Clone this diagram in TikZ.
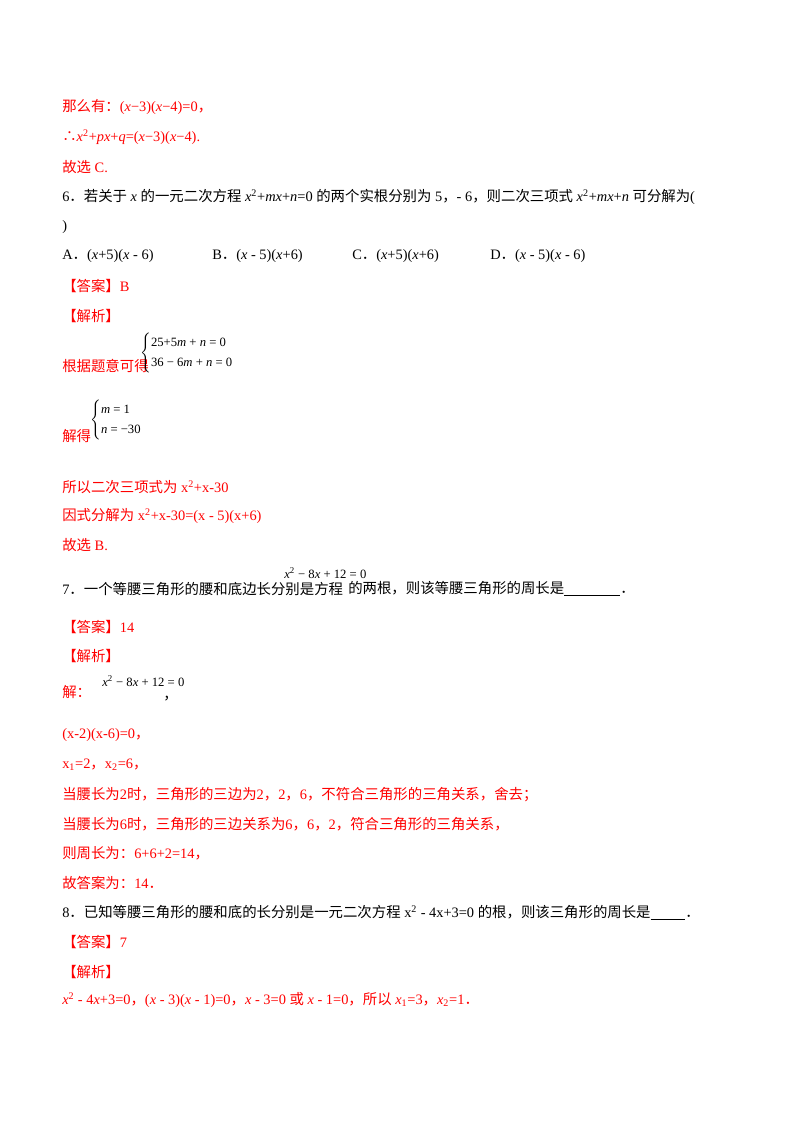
\documentclass[tikz,border=0pt]{standalone}
\usepackage{fontspec}
\setmainfont{Liberation Serif}
\newfontfamily\cjk{Noto Sans CJK SC}
\newcommand\fc{{\cjk ，}}
\newcommand\fp{{\cjk ．}}
\newcommand\eqa{\fontsize{9.5pt}{11pt}\selectfont\textit{x}\textsuperscript{2} − 8\textit{x} + 12 = 0}
\newcommand\sm[1]{\mbox{\fontsize{9.5pt}{11pt}\selectfont #1}}
\begin{document}
\begin{tikzpicture}[x=0.75pt,y=-0.75pt,
  t/.style={anchor=west,inner sep=0pt,font=\fontsize{10.8pt}{12pt}\selectfont},
  r/.style={t,text=red}]
\useasboundingbox (0,0) rectangle (800,1132);
\fill[white] (0,0) rectangle (800,1132);
\node[r] (l1) at (62,107) {{\cjk 那么有：}(\textit{x}−3)(\textit{x}−4)=0\fc};
\node[r] (l2) at (62,137) {{\cjk ∴}\textit{x}\textsuperscript{2}+\textit{px}+\textit{q}=(\textit{x}−3)(\textit{x}−4).};
\node[r] (l3) at (62,167) {{\cjk 故选} C.};
\node[t] (l4) at (62,197) {6\fp{\cjk 若关于} \textit{x} {\cjk 的一元二次方程} \textit{x}\textsuperscript{2}+\textit{mx}+\textit{n}=0 {\cjk 的两个实根分别为} 5\fc - 6\fc{\cjk 则二次三项式} \textit{x}\textsuperscript{2}+\textit{mx}+\textit{n} {\cjk 可分解为}(};
\node[t] (l5) at (62,227) {)};
\node[t] (oA) at (62,256) {A\fp(\textit{x}+5)(\textit{x} - 6)};
\node[t] (oB) at (212,256) {B\fp(\textit{x} - 5)(\textit{x}+6)};
\node[t] (oC) at (352,256) {C\fp(\textit{x}+5)(\textit{x}+6)};
\node[t] (oD) at (490,256) {D\fp(\textit{x} - 5)(\textit{x} - 6)};
\node[r] (a6) at (62,286) {{\cjk 【答案】}B};
\node[r] (j6) at (62,316) {{\cjk 【解析】}};
\node[r] (g6) at (62,366) {{\cjk 根据题意可得}};
\node[t] (s6) at (140,353) {$\left\{\begin{array}{@{}l}\sm{25+5\textit{m} + \textit{n} = 0}\\[3pt]\sm{36 − 6\textit{m} + \textit{n} = 0}\end{array}\right.$};
\node[r] (jd) at (62,436) {{\cjk 解得}};
\node[t] (s7) at (90,420) {$\left\{\begin{array}{@{}l}\sm{\textit{m} = 1}\\[3pt]\sm{\textit{n} = −30}\end{array}\right.$};
\node[r] (y1) at (62,487) {{\cjk 所以二次三项式为} x\textsuperscript{2}+x-30};
\node[r] (y2) at (62,516) {{\cjk 因式分解为} x\textsuperscript{2}+x-30=(x - 5)(x+6)};
\node[r] (y3) at (62,545) {{\cjk 故选} B.};
\node[t] (q7) at (62,589) {7\fp{\cjk 一个等腰三角形的腰和底边长分别是方程}};
\node[t] (q7e) at (284,573) {\eqa};
\node[t] (q7b) at (348,589) {{\cjk 的两根，则该等腰三角形的周长是}\underline{\hspace{42pt}}\fp};
\node[r] (a7) at (62,627) {{\cjk 【答案】}14};
\node[r] (j7) at (62,656) {{\cjk 【解析】}};
\node[r] (s1) at (62,692) {{\cjk 解：}};
\node[t] (s1e) at (102,681) {\eqa};
\node[t] (s1c) at (163,699) {\fc};
\node[r] (s2) at (62,735) {(x-2)(x-6)=0\fc};
\node[r] (s3) at (62,765) {x\textsubscript{1}=2\fc x\textsubscript{2}=6\fc};
\node[r] (s4) at (62,795) {{\cjk 当腰长为}2{\cjk 时，三角形的三边为}2\fc 2\fc 6\fc{\cjk 不符合三角形的三角关系，舍去；}};
\node[r] (s5) at (62,824) {{\cjk 当腰长为}6{\cjk 时，三角形的三边关系为}6\fc 6\fc 2\fc{\cjk 符合三角形的三角关系，}};
\node[r] (s6b) at (62,853) {{\cjk 则周长为：}6+6+2=14\fc};
\node[r] (s7b) at (62,883) {{\cjk 故答案为：}14\fp};
\node[t] (q8) at (62,913) {8\fp{\cjk 已知等腰三角形的腰和底的长分别是一元二次方程} x\textsuperscript{2} - 4x+3=0 {\cjk 的根，则该三角形的周长是}\underline{\hspace{26pt}}\fp};
\node[r] (a8) at (62,942) {{\cjk 【答案】}7};
\node[r] (j8) at (62,972) {{\cjk 【解析】}};
\node[r] (f8) at (62,1000) {\textit{x}\textsuperscript{2} - 4\textit{x}+3=0\fc(\textit{x} - 3)(\textit{x} - 1)=0\fc\textit{x} - 3=0 {\cjk 或} \textit{x} - 1=0\fc{\cjk 所以} \textit{x}\textsubscript{1}=3\fc\textit{x}\textsubscript{2}=1\fp};
\end{tikzpicture}
\end{document}
